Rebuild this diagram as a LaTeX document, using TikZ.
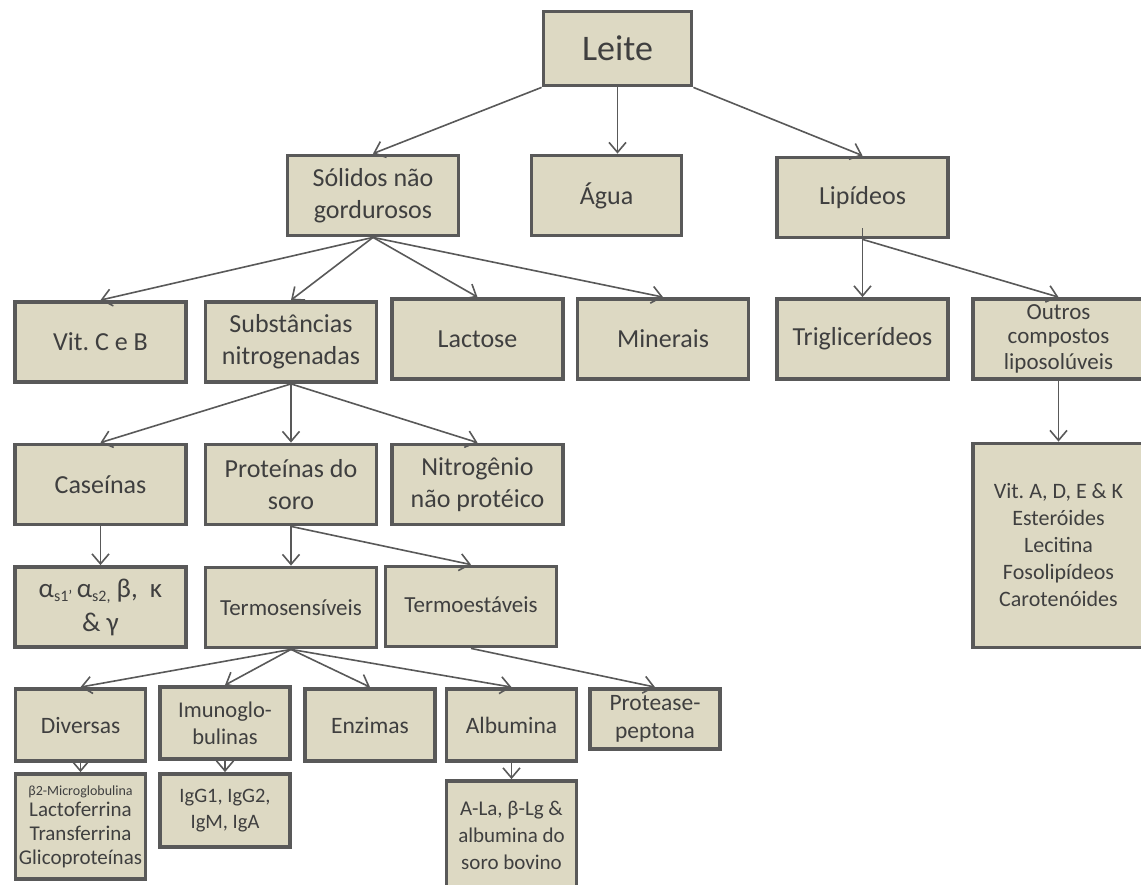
\documentclass[tikz,border=0pt]{standalone}
\usepackage{fontspec}
\setmainfont{Carlito}
\usetikzlibrary{arrows.meta}
\definecolor{boxfill}{HTML}{DDD9C3}
\definecolor{boxline}{HTML}{595959}
\definecolor{txt}{HTML}{3F3F3F}
\definecolor{arr}{HTML}{595959}
\frenchspacing
\begin{document}
\begin{tikzpicture}[x=1pt,y=-1pt,
  box/.style={draw=boxline, line width=3.8pt, fill=boxfill, text=txt, align=center, inner sep=0pt,
    font=\fontsize{26}{32}\selectfont},
  big/.style={box, minimum width=171pt, minimum height=80pt},
  small/.style={box, minimum width=130pt, minimum height=72pt, font=\fontsize{23.5}{28}\selectfont},
  conn/.style={draw=arr, line width=1.6pt, -{Straight Barb[length=10pt,width=17pt,line width=1.6pt]}}]
\useasboundingbox (0,0) rectangle (1141,885);
\fill[white] (0,0) rectangle (1141,885);
% level 0
\node[box, minimum width=148pt, minimum height=74pt, font=\fontsize{36}{40}\selectfont] (leite) at (617.5,48.5) {Leite};
% level 1
\node[big] (solidos) at (373,195.5) {Sólidos não\\gordurosos};
\node[big, minimum width=150pt] (agua) at (606.5,195.5) {Água};
\node[big] (lipideos) at (862.5,197.5) {Lipídeos};
% level 2
\node[big] (vitcb) at (100.5,342) {Vit. C e B};
\node[big] (subst) at (291,342) {Substâncias\\nitrogenadas};
\node[big] (lactose) at (477.5,339) {Lactose};
\node[big] (minerais) at (663,339) {Minerais};
\node[big] (trig) at (862.5,339) {Triglicerídeos};
\node[big, font=\fontsize{23}{26.5}\selectfont] (outros) at (1058.5,339) {\raisebox{-3pt}{Outros}\\compostos\\liposolúveis};
% level 3
\node[big] (caseinas) at (100.5,484.5) {Caseínas};
\node[big] (proteinas) at (291,484.5) {Proteínas do\\soro};
\node[big] (nitro) at (477.5,484.5) {Nitrogênio\\não protéico};
\node[big, minimum height=204pt, font=\fontsize{22}{27}\selectfont] (vitad) at (1058.5,545.5)
  {Vit. A, D, E \& K\\Esteróides\\Lecitina\\Fosolipídeos\\Carotenóides};
% level 4
\node[big, font=\fontsize{27}{34}\selectfont] (alfas) at (100.5,607)
  {α\raisebox{-4pt}{\fontsize{16}{16}\selectfont s1'}\,α\raisebox{-4pt}{\fontsize{16}{16}\selectfont s2,} β,~~κ\\\& γ};
\node[big, font=\fontsize{23}{28}\selectfont] (tsens) at (291,607.5) {Termosensíveis};
\node[big, font=\fontsize{23}{28}\selectfont] (test) at (471,606.5) {\raisebox{3pt}{Termoestáveis}};
% level 5
\node[small] (diversas) at (80.5,725) {Diversas};
\node[small, font=\fontsize{22.5}{27}\selectfont] (imuno) at (225,723) {Imunoglo-\\bulinas};
\node[small] (enzimas) at (370,725) {Enzimas};
\node[small] (albumina) at (511.5,725) {Albumina};
\node[small, minimum height=60pt] (protease) at (655,719) {Protease-\\peptona};
% level 6
\node[small, minimum height=105pt, font=\fontsize{21}{24}\selectfont] (beta) at (80.5,826.5)
  {{\fontsize{14}{18}\selectfont β2-Microglobulina}\\[-3pt]Lactoferrina\\Transferrina\\Glicoproteínas};
\node[small, minimum height=73pt, font=\fontsize{20.5}{26}\selectfont] (igg) at (225,810.5) {IgG1, IgG2,\\IgM, IgA};
\node[small, minimum height=108pt, font=\fontsize{21}{27}\selectfont] (ala) at (511.5,835) {A-La, β-Lg \&\\albumina do\\soro bovino};
% connectors
\draw[conn] (leite.south west) -- (solidos.north);
\draw[conn] (leite.south) -- (leite.south |- agua.north);
\draw[conn] (leite.south east) -- (lipideos.north);
\draw[conn] (solidos.south) -- (vitcb.north);
\draw[conn] (solidos.south) -- (subst.north);
\draw[conn] (solidos.south) -- (lactose.north);
\draw[conn] (solidos.south) -- (minerais.north);
\draw[conn] ([yshift=11pt]lipideos.south) -- (trig.north);
\draw[conn] (lipideos.south) -- (outros.north);
\draw[conn] (outros.south) -- (vitad.north);
\draw[conn] (subst.south) -- (caseinas.north);
\draw[conn] (subst.south) -- (proteinas.north);
\draw[conn] (subst.south) -- (nitro.north);
\draw[conn] (caseinas.south) -- (alfas.north);
\draw[conn] (proteinas.south) -- (tsens.north);
\draw[conn] (proteinas.south) -- (test.north);
\draw[conn] (tsens.south) -- (diversas.north);
\draw[conn] (tsens.south) -- (imuno.north);
\draw[conn] (tsens.south) -- (enzimas.north);
\draw[conn] (tsens.south) -- (albumina.north);
\draw[conn] (test.south) -- (protease.north);
\draw[conn] (diversas.south) -- (beta.north);
\draw[conn] (imuno.south) -- (igg.north);
\draw[conn] (albumina.south) -- (ala.north);
\end{tikzpicture}
\end{document}
